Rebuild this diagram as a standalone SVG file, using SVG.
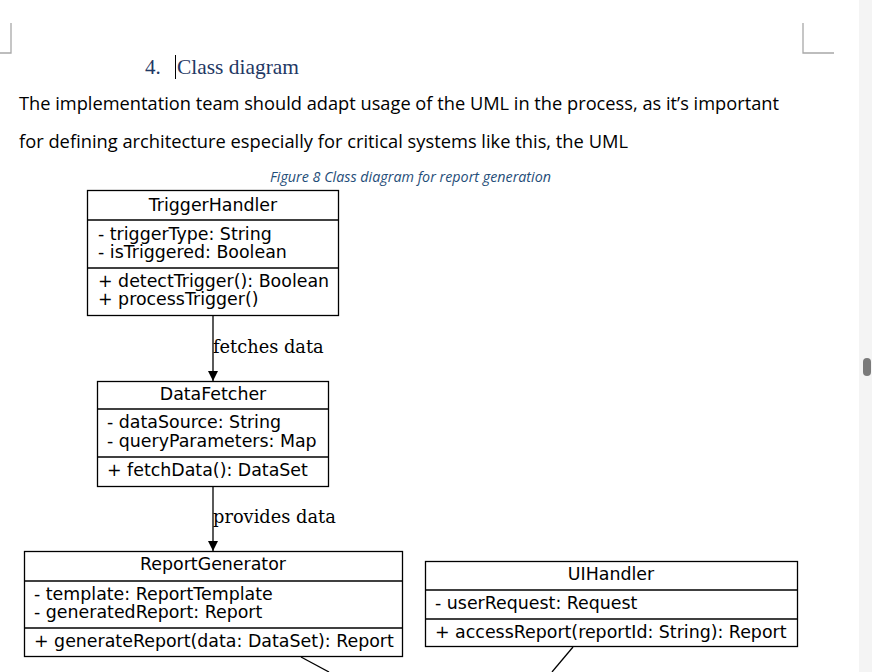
<svg xmlns="http://www.w3.org/2000/svg" width="872" height="672" viewBox="0 0 872 672">
<defs>
<style>
.box{fill:#fff;stroke:#000;stroke-width:1.3}
.div{stroke:#000;stroke-width:1.3}
.t{font-family:"DejaVu Sans",sans-serif;font-size:17.4px;fill:#000}
.c{text-anchor:middle}
.lbl{font-family:"DejaVu Serif",serif;font-size:17.8px;fill:#000}
.edge{stroke:#000;stroke-width:1.3;fill:none}
.mark{stroke:#a8a8a8;stroke-width:1.3;fill:none}
.body{font-family:"Open Sans","Liberation Sans",sans-serif;font-size:18px;fill:#000}
</style>
<marker id="ah" viewBox="0 0 10 10" refX="10" refY="5" markerWidth="10" markerHeight="13" markerUnits="userSpaceOnUse" orient="auto">
<path d="M0,0 L10,5 L0,10 z" fill="#000"/>
</marker>
</defs>
<rect x="0" y="0" width="872" height="672" fill="#fff"/>
<rect x="859" y="0" width="13" height="672" fill="#f4f4f4"/>
<rect x="863" y="358" width="8" height="18" rx="4" fill="#7a7a7a"/>
<path class="mark" d="M11,23 V53 H0"/>
<path class="mark" d="M803,23 V53 H834"/>
<g id="heading">
<text x="145" y="74" font-family="'Liberation Serif',serif" font-size="21" fill="#1F3864">4.</text>
<text x="177" y="74" font-family="'Liberation Serif',serif" font-size="21" fill="#1F3864" textLength="122" lengthAdjust="spacingAndGlyphs">Class diagram</text>
<line x1="175.5" y1="55" x2="175.5" y2="79" stroke="#000" stroke-width="1"/>
</g>
<text class="body" x="19" y="110" textLength="760" lengthAdjust="spacingAndGlyphs">The implementation team should adapt usage of the UML in the process, as it’s important</text>
<text class="body" x="19" y="148" textLength="609" lengthAdjust="spacingAndGlyphs">for defining architecture especially for critical systems like this, the UML</text>
<text x="270" y="182" font-family="'Open Sans','Liberation Sans',sans-serif" font-style="italic" font-size="14" fill="#1F4E79" textLength="281" lengthAdjust="spacingAndGlyphs">Figure 8 Class diagram for report generation</text>

<g id="connectors">
<line class="edge" x1="213" y1="315" x2="213" y2="381" marker-end="url(#ah)"/>
<text class="lbl" x="213" y="353">fetches data</text>
<line class="edge" x1="213" y1="487" x2="213" y2="551" marker-end="url(#ah)"/>
<text class="lbl" x="213" y="523">provides data</text>
<line class="edge" x1="301" y1="657" x2="329" y2="672"/>
<line class="edge" x1="573" y1="647" x2="552" y2="672"/>
</g>

<g id="TriggerHandler">
<rect class="box" x="87.5" y="190.5" width="251" height="125"/>
<line class="div" x1="87.5" y1="220" x2="338.5" y2="220"/>
<line class="div" x1="87.5" y1="268" x2="338.5" y2="268"/>
<text class="t c" x="213" y="211">TriggerHandler</text>
<text class="t" x="98" y="240">- triggerType: String</text>
<text class="t" x="98" y="258">- isTriggered: Boolean</text>
<text class="t" x="98" y="287">+ detectTrigger(): Boolean</text>
<text class="t" x="98" y="305">+ processTrigger()</text>
</g>

<g id="DataFetcher">
<rect class="box" x="97.5" y="381.5" width="231" height="105"/>
<line class="div" x1="97.5" y1="409" x2="328.5" y2="409"/>
<line class="div" x1="97.5" y1="457" x2="328.5" y2="457"/>
<text class="t c" x="213" y="400">DataFetcher</text>
<text class="t" x="107" y="428">- dataSource: String</text>
<text class="t" x="107" y="447">- queryParameters: Map</text>
<text class="t" x="107" y="476">+ fetchData(): DataSet</text>
</g>

<g id="ReportGenerator">
<rect class="box" x="24.5" y="551.5" width="378" height="105"/>
<line class="div" x1="24.5" y1="581" x2="402.5" y2="581"/>
<line class="div" x1="24.5" y1="628" x2="402.5" y2="628"/>
<text class="t c" x="213" y="570">ReportGenerator</text>
<text class="t" x="34" y="600">- template: ReportTemplate</text>
<text class="t" x="34" y="618">- generatedReport: Report</text>
<text class="t" x="34" y="647">+ generateReport(data: DataSet): Report</text>
</g>

<g id="UIHandler">
<rect class="box" x="425.5" y="561.5" width="372" height="85"/>
<line class="div" x1="425.5" y1="590" x2="797.5" y2="590"/>
<line class="div" x1="425.5" y1="619" x2="797.5" y2="619"/>
<text class="t c" x="611" y="580">UIHandler</text>
<text class="t" x="435" y="609">- userRequest: Request</text>
<text class="t" x="435" y="638">+ accessReport(reportId: String): Report</text>
</g>
</svg>
